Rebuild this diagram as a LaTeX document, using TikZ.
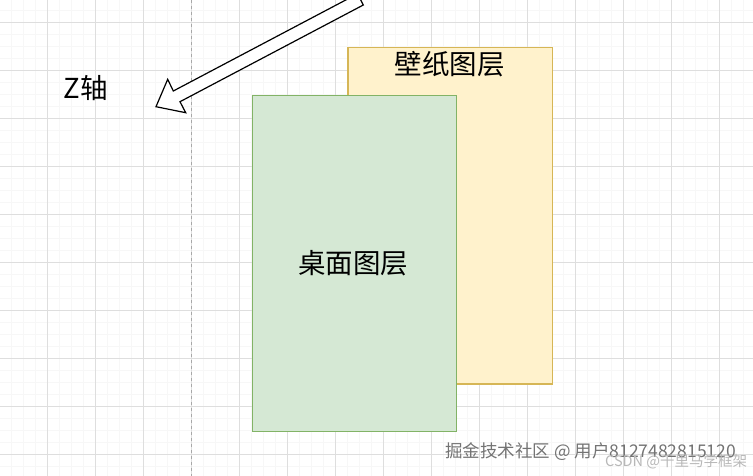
\documentclass[tikz,border=0pt]{standalone}
\usepackage{fontspec}
\newfontfamily\cjk{Noto Sans CJK SC}
\definecolor{gridmajor}{HTML}{DEDEDE}
\definecolor{gridminor}{HTML}{F7F7F7}
\definecolor{yelfill}{HTML}{FFF2CC}
\definecolor{yelline}{HTML}{D6B656}
\definecolor{grnfill}{HTML}{D5E8D4}
\definecolor{grnline}{HTML}{82B366}
\definecolor{pagedash}{HTML}{A8A8A8}
\begin{document}
\begin{tikzpicture}[x=1pt,y=-1pt,
  layer/.style={line width=1.2pt},
  lbl/.style={font=\cjk\fontsize{27.5}{32}\selectfont, text=black, inner sep=0pt},
  wm/.style={font=\cjk\fontsize{17.5}{20}\selectfont, text=black!55, inner sep=0pt},
  wmsmall/.style={font=\cjk\fontsize{14.5}{17}\selectfont, text=black!28, inner sep=0pt},
  axisarrow/.style={draw=black, fill=white, line width=1.2pt, line join=miter}]
\useasboundingbox (0,0) rectangle (753,476);
\fill[white] (0,0) rectangle (753,476);
\begin{scope}
\clip (0,0) rectangle (753,476);
% minor grid
\foreach \x in {11.7,23.7,...,753} \draw[gridminor, line width=0.5pt] (\x,0) -- (\x,476);
\foreach \y in {10.3,22.3,...,476} \draw[gridminor, line width=0.5pt] (0,\y) -- (753,\y);
% major grid
\foreach \x in {47.7,95.7,...,753} \draw[gridmajor, line width=0.8pt] (\x,0) -- (\x,476);
\foreach \y in {22.3,70.3,...,476} \draw[gridmajor, line width=0.8pt] (0,\y) -- (753,\y);
% page break
\draw[pagedash, line width=0.8pt, dash pattern=on 3pt off 3pt] (191.5,0) -- (191.5,476);
% rectangles
\node[layer, draw=yelline, fill=yelfill, minimum width=204.7pt, minimum height=336.6pt, anchor=north west, inner sep=0pt] (wall) at (347.3,46.7) {};
\node[layer, draw=grnline, fill=grnfill, minimum width=204.3pt, minimum height=335.4pt, anchor=north west, inner sep=0pt] (desk) at (251.7,95.3) {};
\node[lbl] (walllbl) at (449.5,64) {壁纸图层};
\node[lbl] (desklbl) at (353.3,263.3) {桌面图层};
\node[lbl] (zlbl) at (85.5,88) {Z轴};
% z axis flat arrow
\coordinate (tip) at (156,106.7);
\coordinate (b1) at (167.7,79.3);
\coordinate (i1) at (173.3,91);
\coordinate (e1) at (357.5,-6.2);
\coordinate (e2) at (363.3,5);
\coordinate (i2) at (180,101.7);
\coordinate (b2) at (185.7,112.7);
\draw[axisarrow] (tip) -- (b1) -- (i1) -- (e1) -- (e2) -- (i2) -- (b2) -- cycle;
% watermarks
\node[wm, anchor=west] (wm1) at (445,452) {掘金技术社区 @ 用户8127482815120};
\node[wmsmall, anchor=west] (wm2) at (605,462) {CSDN @千里马学框架};
\end{scope}
\end{tikzpicture}
\end{document}
